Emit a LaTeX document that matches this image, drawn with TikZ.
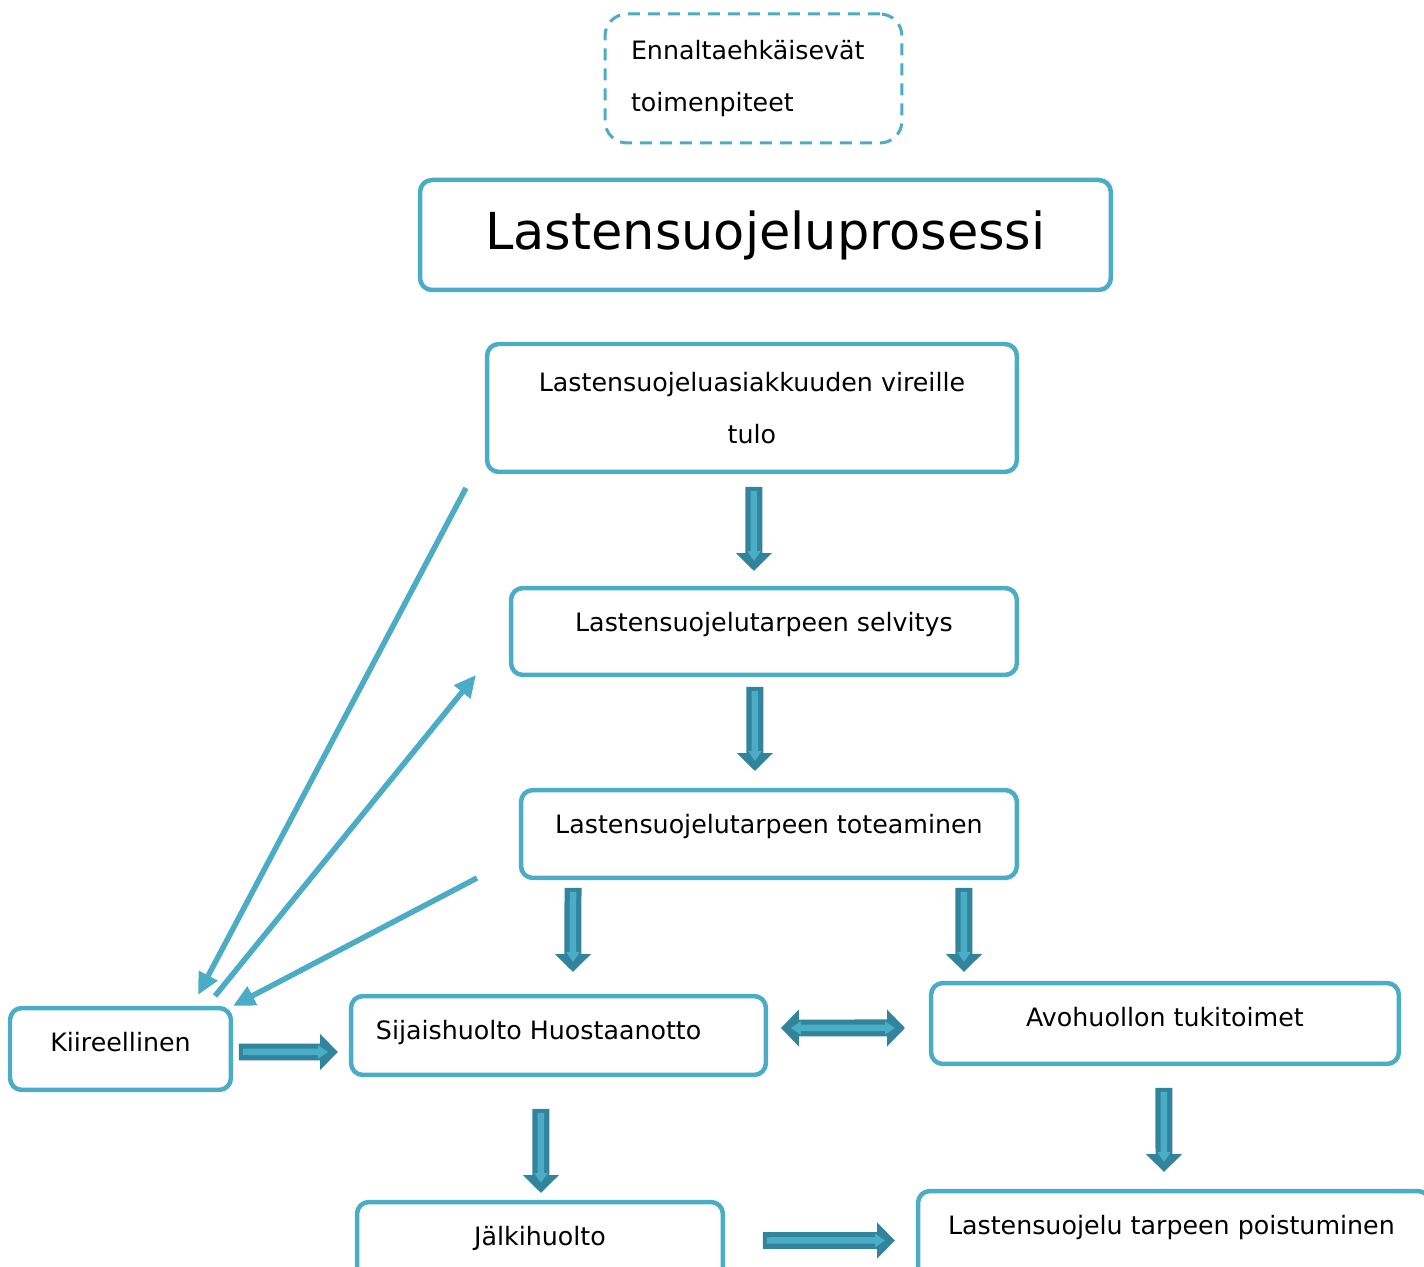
\documentclass[tikz,border=0pt]{standalone}
\usepackage{fontspec}
\setmainfont{DejaVu Sans}
\usetikzlibrary{arrows.meta,calc}
\definecolor{boxblue}{RGB}{75,172,198}
\definecolor{arrdark}{RGB}{49,132,155}
\tikzset{
  box/.style={draw=boxblue, line width=0.09cm, rounded corners=0.24cm, outer sep=0pt, anchor=north west, font=\fontsize{14.4pt}{30pt}\selectfont},
  oneline/.style={inner ysep=0pt, text height=0.87cm},
  thinarrow/.style={draw=boxblue, line width=0.11cm, -{Triangle[length=0.44cm,width=0.4cm]}},
  fatarrow/.style={draw=arrdark, line width=0.34cm, -{Triangle[length=0.36cm,width=0.7cm]},
    postaction={draw=boxblue, line width=0.13cm, shorten <=0.08cm, shorten >=0.2cm, -{Triangle[length=0.2cm,width=0.26cm]}}},
  fatarrows/.style={draw=arrdark, line width=0.34cm, {Triangle[length=0.36cm,width=0.72cm]}-{Triangle[length=0.36cm,width=0.72cm]},
    postaction={draw=boxblue, line width=0.13cm, shorten <=0.2cm, shorten >=0.2cm, {Triangle[length=0.2cm,width=0.26cm]}-{Triangle[length=0.2cm,width=0.26cm]}}}
}
\begin{document}
\begin{tikzpicture}[x=0.02cm,y=-0.02cm]
\useasboundingbox (0,0) rectangle (1424,1267);
\clip (0,0) rectangle (1424,1267);
\node[box, line width=0.06cm, dash pattern=on 0.24cm off 0.16cm, rounded corners=0.44cm, minimum width=5.94cm, minimum height=2.58cm, text width=4.9cm, inner xsep=0.52cm, align=flush left] (ennalta) at (605,14) {Ennaltaehkäisevät\\toimenpiteet};
\node[box, line width=0.09cm, minimum width=13.82cm, minimum height=2.2cm, font=\fontsize{29pt}{34pt}\selectfont] (prosessi) at (420,180) {Lastensuojeluprosessi};
\node[box, minimum width=10.6cm, minimum height=2.56cm, align=center] (vireille) at (487,344) {Lastensuojeluasiakkuuden vireille\\tulo};
\node[box, oneline, minimum width=10.12cm, text depth=0.87cm] (selvitys) at (511,588) {Lastensuojelutarpeen selvitys};
\node[box, oneline, minimum width=9.92cm, text depth=0.89cm] (toteaminen) at (521,790) {Lastensuojelutarpeen toteaminen};
\node[box, oneline, minimum width=4.42cm, text depth=0.77cm] (kiire) at (10,1008) {Kiireellinen};
\node[box, oneline, text width=7.3cm, inner xsep=0.5cm, align=flush left, text depth=0.71cm] (sijais) at (351,996) {Sijaishuolto Huostaanotto};
\node[box, oneline, minimum width=9.36cm, text depth=0.75cm] (avo) at (931,983) {Avohuollon tukitoimet};
\node[box, oneline, minimum width=7.32cm, text depth=0.91cm] (jalki) at (357,1202) {Jälkihuolto};
\node[box, oneline, text width=9.04cm, inner xsep=0.6cm, align=flush left, text depth=1.11cm] (poist) at (918,1191) {Lastensuojelu tarpeen poistuminen};
\draw[fatarrow] ($(vireille.south)+(2,15)$) -- ($(selvitys.north)+(-10,-17)$);
\draw[fatarrow] ($(selvitys.south)+(-9,12)$) -- ($(toteaminen.north)+(-14,-19)$);
\draw[fatarrow] ($(toteaminen.south west)+(52,10)$) -- ($(sijais.north)+(14.5,-24)$);
\draw[fatarrow] ($(toteaminen.south east)+(-53,10)$) -- ($(avo.north west)+(33,-11)$);
\draw[fatarrows] ($(sijais.east)+(15,-7.5)$) -- ($(avo.west)+(-26,4.5)$);
\draw[fatarrow] ($(kiire.east)+(8,3)$) -- ($(sijais.west)+(-13,16.5)$);
\draw[fatarrow] ($(sijais.south)+(-17.5,34)$) -- ($(jalki.north)+(1,-9)$);
\draw[fatarrow] ($(avo.south)+(-1,24)$) -- ($(poist.north west)+(246,-19)$);
\draw[fatarrow] ($(jalki.east)+(40,-6)$) -- ($(poist.west)+(-23,0)$);
\draw[thinarrow] ($(vireille.south west)+(-21,16)$) -- ($(kiire.north)+(77.5,-13)$);
\draw[thinarrow] ($(kiire.north)+(94.5,-12)$) -- ($(selvitys.south west)+(-35,0)$);
\draw[thinarrow] ($(toteaminen.south west)+(-44,0)$) -- ($(kiire.north east)+(2,-2)$);
\end{tikzpicture}
\end{document}
